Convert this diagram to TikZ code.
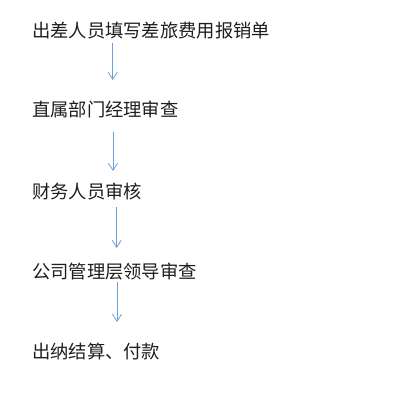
\documentclass[tikz,border=0pt]{standalone}
\usepackage{fontspec}
\newfontfamily\cjk{Noto Sans CJK SC}
\usetikzlibrary{arrows.meta}
\definecolor{arrowblue}{RGB}{110,160,215}
\definecolor{txt}{RGB}{30,30,30}
\tikzset{
  steptext/.style={anchor=west, inner sep=0pt, font=\cjk\fontsize{18.3}{21}\selectfont, text=txt},
  flowarrow/.style={draw=arrowblue, line width=0.8pt, -{Straight Barb[length=7pt,width=9pt,line width=0.8pt]}}
}
\begin{document}
\begin{tikzpicture}[x=1pt,y=-1pt]
\useasboundingbox (0,0) rectangle (400,402);
\fill[white] (0,0) rectangle (400,402);
\node[steptext] (t1) at (32,30.5) {出差人员填写差旅费用报销单};
\node[steptext] (t2) at (32,109) {直属部门经理审查};
\node[steptext] (t3) at (32,191.5) {财务人员审核};
\node[steptext] (t4) at (32,272) {公司管理层领导审查};
\node[steptext] (t5) at (32,352) {出纳结算、付款};
\coordinate (a1s) at (112.7,43);
\coordinate (a1e) at (112.7,80);
\coordinate (a2s) at (113,132);
\coordinate (a2e) at (113,171);
\coordinate (a3s) at (116.7,207);
\coordinate (a3e) at (116.7,248);
\coordinate (a4s) at (117,282);
\coordinate (a4e) at (117,322);
\draw[flowarrow] (a1s) -- (a1e);
\draw[flowarrow] (a2s) -- (a2e);
\draw[flowarrow] (a3s) -- (a3e);
\draw[flowarrow] (a4s) -- (a4e);
\end{tikzpicture}
\end{document}
